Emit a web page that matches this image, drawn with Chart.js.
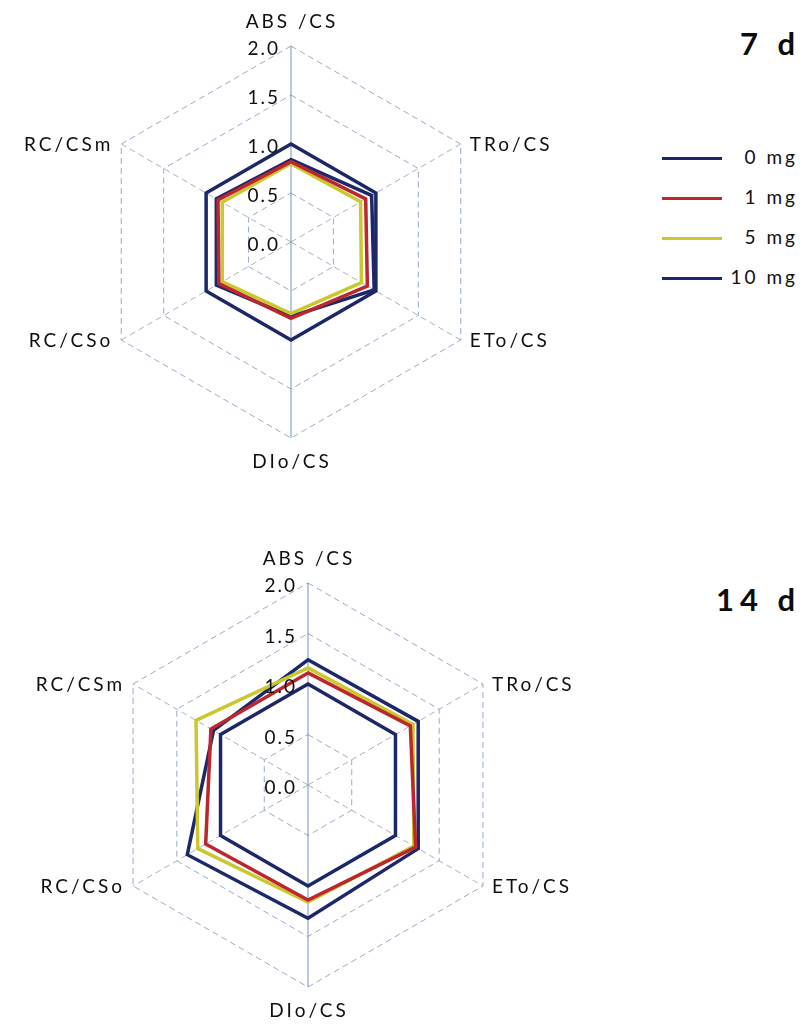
<!DOCTYPE html>
<html>
<head>
<meta charset="utf-8">
<script src="https://cdn.jsdelivr.net/npm/chart.js@4.4.1/dist/chart.umd.min.js"></script>
<style>
  html, body { margin: 0; padding: 0; background: #ffffff; }
  body { width: 805px; height: 1031px; position: relative; overflow: hidden;
         font-family: Lato, "Open Sans", "Liberation Sans", sans-serif; color: #111; }
  canvas { position: absolute; }
  #chart7 { left: 0; top: 0; }
  #chart14 { left: 0; top: 530px; }
  .period { position: absolute; right: 4px; font-weight: 700; font-size: 31px;
            letter-spacing: 6px; white-space: pre; line-height: 1; color: #0d0d0d; }
  #legend { position: absolute; left: 662px; top: 146px; width: 136px; }
  .row { position: relative; height: 40px; }
  .row .swatch { position: absolute; left: 0; top: 11px; width: 60px; height: 3px; }
  .row .txt { position: absolute; right: 0; top: -1px; font-size: 19px; letter-spacing: 3px;
              line-height: 24px; white-space: pre; color: #111; }
</style>
</head>
<body>
<div class="period" style="top:28px;">7 d</div>
<div class="period" style="top:584px;">14 d</div>
<div id="legend"></div>
<canvas id="chart7" width="600" height="500"></canvas>
<canvas id="chart14" width="620" height="500"></canvas>

<script>
// Photosynthetic parameters per cross section, relative to the control
const axisLabels = ['ABS /CS', 'TRo/CS', 'ETo/CS', 'DIo/CS', 'RC/CSo', 'RC/CSm'];
const seriesNames = ['0 mg', '1 mg', '5 mg', '10 mg'];
const seriesColors = ['#1b2766', '#bb272d', '#cbc72e', '#1c2869'];

const tickValues = [0, 0.5, 1.0, 1.5, 2.0];
const tickLabels = ['0.0', '0.5', '1.0', '1.5', '2.0'];

// Day 7
const day7_0mg  = [1.00, 1.00, 1.00, 1.00, 1.00, 1.00];
const day7_1mg  = [0.82, 0.88, 0.90, 0.78, 0.85, 0.86];
const day7_5mg  = [0.80, 0.82, 0.83, 0.73, 0.81, 0.81];
const day7_10mg = [0.84, 0.95, 0.98, 0.76, 0.88, 0.88];

// Day 14
const day14_0mg  = [1.00, 1.00, 1.00, 1.00, 1.00, 1.00];
const day14_1mg  = [1.11, 1.17, 1.23, 1.14, 1.17, 1.11];
const day14_5mg  = [1.16, 1.20, 1.21, 1.16, 1.26, 1.28];
const day14_10mg = [1.24, 1.26, 1.26, 1.32, 1.38, 1.08];

// Legend built from the series names and colours
const legendEl = document.getElementById('legend');
seriesNames.forEach((name, i) => {
  const row = document.createElement('div');
  row.className = 'row';
  const sw = document.createElement('span');
  sw.className = 'swatch';
  sw.style.background = seriesColors[i];
  const tx = document.createElement('span');
  tx.className = 'txt';
  tx.textContent = name;
  row.appendChild(sw);
  row.appendChild(tx);
  legendEl.appendChild(row);
});

// Draws the value labels beside the vertical axis and the axis names around the web
const axisText = {
  id: 'axisText',
  afterDatasetsDraw(chart) {
    const s = chart.scales.r;
    const ctx = chart.ctx;
    ctx.save();
    ctx.fillStyle = '#0f0f0f';
    ctx.textBaseline = 'middle';

    ctx.font = '19px Lato, "Open Sans", sans-serif';
    ctx.letterSpacing = '2px';
    ctx.textAlign = 'right';
    tickValues.forEach((v, i) => {
      const d = s.getDistanceFromCenterForValue(v);
      ctx.fillText(tickLabels[i], s.xCenter - 11, s.yCenter - d + 3);
    });

    ctx.font = '19px Lato, "Open Sans", sans-serif';
    ctx.letterSpacing = '3px';
    chart.data.labels.forEach((lab, i) => {
      const p = s.getPointPosition(i, s.drawingArea);
      const dx = p.x - s.xCenter;
      if (Math.abs(dx) < 1) {
        const q = s.getPointPosition(i, s.drawingArea + 24);
        ctx.textAlign = 'center';
        ctx.fillText(lab, q.x + 1, q.y);
      } else if (dx > 0) {
        ctx.textAlign = 'left';
        ctx.fillText(lab, p.x + 9, p.y + 1);
      } else {
        ctx.textAlign = 'right';
        ctx.fillText(lab, p.x - 8, p.y + 1);
      }
    });
    ctx.restore();
  }
};

function makeRadar(canvasId, data, pad) {
  const datasets = data.map((vals, i) => ({
    label: seriesNames[i],
    data: vals,
    borderColor: seriesColors[i],
    backgroundColor: 'rgba(0,0,0,0)',
    borderWidth: 3.5,
    fill: false,
    pointRadius: 0,
    pointHoverRadius: 0,
    tension: 0,
    borderJoinStyle: 'miter'
  }));
  return new Chart(document.getElementById(canvasId), {
    type: 'radar',
    data: { labels: axisLabels, datasets },
    options: {
      responsive: false,
      animation: false,
      devicePixelRatio: 1,
      layout: { padding: pad },
      plugins: { legend: { display: false }, tooltip: { enabled: false } },
      scales: {
        r: {
          min: 0,
          max: 2,
          beginAtZero: true,
          ticks: { stepSize: 0.5, display: false, showLabelBackdrop: false },
          pointLabels: { display: false },
          grid: {
            color: 'rgba(140,162,195,0.9)',
            lineWidth: 1
          },
          border: { dash: [6, 4] },
          angleLines: {
            color: (ctx) => (ctx.index === 0 || ctx.index === 3) ? 'rgba(110,140,185,0.95)' : 'rgba(160,170,185,0.9)',
            lineWidth: 1,
            borderDash: (ctx) => (ctx.index === 0 || ctx.index === 3) ? [] : [6, 4]
          }
        }
      }
    },
    plugins: [axisText]
  });
}

makeRadar('chart7', [day7_0mg, day7_1mg, day7_5mg, day7_10mg],
  { left: 95, top: 46, right: 113, bottom: 62 });
makeRadar('chart14', [day14_0mg, day14_1mg, day14_5mg, day14_10mg],
  { left: 106, top: 53, right: 110, bottom: 43 });
</script>
</body>
</html>
